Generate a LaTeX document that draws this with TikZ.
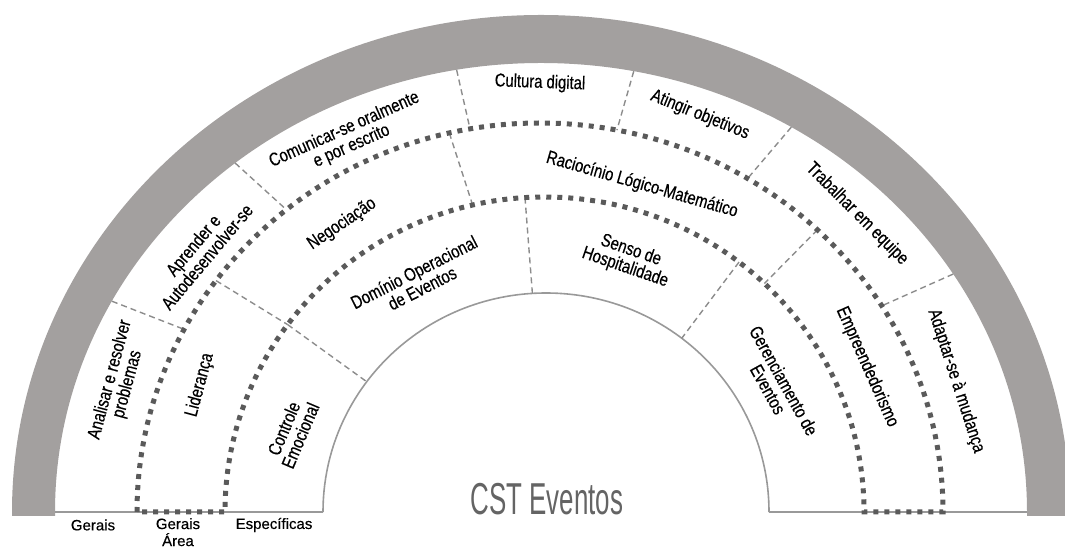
\documentclass[tikz,border=0pt]{standalone}
\usepackage{fontspec}
\setmainfont{Liberation Sans}[FakeStretch=0.8, FakeBold=0.4]
\newfontfamily\levelfont{Liberation Sans}[FakeBold=0.4]
\newfontfamily\titlefont{Liberation Sans}[FakeStretch=0.58]
\usetikzlibrary{calc}
\definecolor{bandgray}{RGB}{163,160,159}
\definecolor{ringdot}{RGB}{90,90,90}
\definecolor{divgray}{RGB}{140,140,140}
\definecolor{titlegray}{RGB}{100,100,100}
\tikzset{
  ringline/.style={line width=5pt, color=ringdot, dash pattern=on 5pt off 6pt},
  divline/.style={line width=1.4pt, color=divgray, dash pattern=on 6pt off 4pt},
  rimline/.style={line width=1.6pt, color=black!40},
  skill/.style={font=\fontsize{18.5}{18}\selectfont, align=center, inner sep=0pt},
  level/.style={font=\levelfont\fontsize{15}{17}\selectfont, align=center, inner sep=0pt},
}
% spoke from one ring edge to the next: {centre}{rx}{ry}{centre}{rx}{ry}{angle}
\def\spoke#1#2#3#4#5#6#7{\draw[divline] ([shift={(#7:#2pt and #3pt)}]#1) -- ([shift={(#7:#5pt and #6pt)}]#4);}

\begin{document}
\begin{tikzpicture}[x=1pt, y=1pt]
		%%%%% START %%%%%
		\useasboundingbox (0,0) rectangle (1065,548);
		
		\coordinate (cg) at (541,36);
		\coordinate (co) at (540,36);
		\coordinate (ci) at (544.5,36);
		\coordinate (ch) at (546,36);
		
		% outer band
		\fill[bandgray] (12,32) -- (12,36) arc[start angle=180, end angle=0, x radius=529pt, y radius=497pt]
			-- (1070,32) -- (1027,32) -- (1027,36) arc[start angle=0, end angle=180, x radius=486pt, y radius=449pt]
			-- (55,32) -- cycle;
		
		% base and inner hole
		\draw[rimline] (55,36) -- (323,36);
		\draw[rimline] (769,36) -- (1027,36);
		\draw[rimline] (323,36) arc[start angle=180, end angle=0, x radius=223pt, y radius=219pt];
		
		% spokes
		\spoke{cg}{486}{449}{co}{403}{389}{152}
		\spoke{cg}{486}{449}{co}{403}{389}{129}
		\spoke{cg}{486}{449}{co}{403}{389}{100}
		\spoke{cg}{486}{449}{co}{403}{389}{79}
		\spoke{cg}{486}{449}{co}{403}{389}{59}
		\spoke{cg}{486}{449}{co}{403}{389}{32}
		
		\spoke{co}{403}{389}{ci}{319.5}{315}{143.5}
		\spoke{co}{403}{389}{ci}{319.5}{315}{103}
		\spoke{co}{403}{389}{ci}{319.5}{315}{46.5}
		
		\spoke{ci}{319.5}{315}{ch}{223}{219}{143.5}
		\spoke{ci}{319.5}{315}{ch}{223}{219}{93.5}
		\spoke{ci}{319.5}{315}{ch}{223}{219}{52.5}
		
		% middle ring
		\draw[ringline] (137,36) arc[start angle=180, end angle=0, x radius=403pt, y radius=389pt]
			-- (864,36) arc[start angle=0, end angle=180, x radius=319.5pt, y radius=315pt] -- cycle;
		
		% gerais
		\node[skill, rotate=75] (analisar) at (119,166) {Analisar e resolver\\problemas};
		\node[skill, rotate=50] (aprender) at (200,297) {Aprender e\\Autodesenvolver-se};
		\node[skill, rotate=24] (comunicar) at (348,410) {Comunicar-se oralmente\\e por escrito};
		\node[skill, rotate=-2] (cultura) at (540,465) {Cultura digital};
		\node[skill, rotate=-22] (atingir) at (700,433) {Atingir objetivos};
		\node[skill, rotate=-45] (trabalhar) at (857,334) {Trabalhar em equipe};
		\node[skill, rotate=-72] (adaptar) at (956,167) {Adaptar-se à mudança};
		
		% gerais area
		\node[skill, rotate=75] (lideranca) at (200,163) {Liderança};
		\node[skill, rotate=34] (negociacao) at (342,324) {Negociação};
		\node[skill, rotate=-16] (raciocinio) at (642,363) {Raciocínio Lógico-Matemático};
		\node[skill, rotate=-66] (empreend) at (867,181) {Empreendedorismo};
		
		% especificas
		\node[skill, rotate=67] (controle) at (292,116) {Controle\\Emocional};
		\node[skill, rotate=27] (dominio) at (418,268) {Domínio Operacional\\de Eventos};
		\node[skill, rotate=-19] (senso) at (628,289) {Senso de\\Hospitalidade};
		\node[skill, rotate=-61] (gerenc) at (776,163) {Gerenciamento de\\Eventos};
		
		% levels
		\node[level] (gerais) at (93,23) {Gerais};
		\node[level, anchor=north] (geraisarea) at (178,30) {Gerais\\Área};
		\node[level] (especificas) at (274,23) {Específicas};
		
		\node[anchor=base, inner sep=0pt, text=titlegray, font=\titlefont\fontsize{44.7}{46}\selectfont] (titulo) at (547,33) {CST Eventos};
		
		%%%%% END %%%%%
	\end{tikzpicture}
\end{document}
